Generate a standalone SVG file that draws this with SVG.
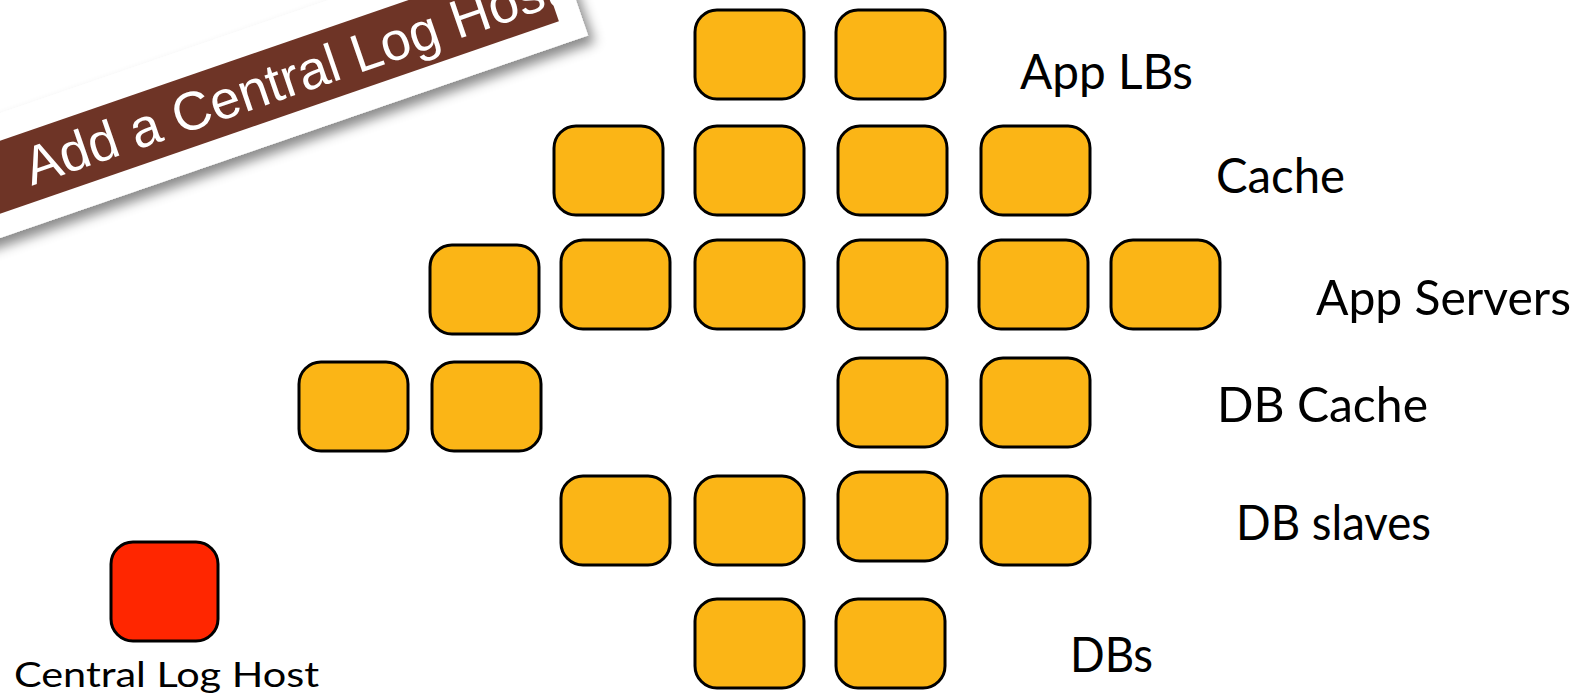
<svg xmlns="http://www.w3.org/2000/svg" width="1581" height="697" viewBox="0 0 1581 697">
<style>
.box{fill:#FBB516;stroke:#000;stroke-width:3}
.log{fill:#FF2600;stroke:#000;stroke-width:3}
.lbl{font-family:Lato,"Open Sans","Liberation Sans",sans-serif;font-size:48px;fill:#000}
.lbl2{font-family:Lato,"Open Sans","Liberation Sans",sans-serif;font-size:35px;fill:#000}
.ban{font-family:"Liberation Sans",Arial,sans-serif;font-size:54px;fill:#fff}
</style>
<defs>
<filter id="sh" x="-20%" y="-50%" width="140%" height="220%">
<feDropShadow dx="4" dy="9" stdDeviation="6" flood-color="#000" flood-opacity="0.45"/>
</filter>
</defs>
<g id="banner" transform="translate(0,238) rotate(-19)">
<rect x="-200" y="-118" width="822" height="118" fill="#fff" filter="url(#sh)"/>
<rect x="-200" y="-92" width="799" height="69" fill="#6E3426"/>
<text class="ban" x="47" y="-39">Add a Central Log Host</text>
</g>
<g id="app-lbs">
<rect class="box" x="695" y="10" width="109" height="89" rx="22"/>
<rect class="box" x="836" y="10" width="109" height="89" rx="22"/>
<text class="lbl" x="1020" y="89" textLength="173" lengthAdjust="spacingAndGlyphs">App LBs</text>
</g>
<g id="cache">
<rect class="box" x="554" y="126" width="109" height="89" rx="22"/>
<rect class="box" x="695" y="126" width="109" height="89" rx="22"/>
<rect class="box" x="838" y="126" width="109" height="89" rx="22"/>
<rect class="box" x="981" y="126" width="109" height="89" rx="22"/>
<text class="lbl" x="1216" y="193" textLength="129" lengthAdjust="spacingAndGlyphs">Cache</text>
</g>
<g id="app-servers">
<rect class="box" x="430" y="245" width="109" height="89" rx="22"/>
<rect class="box" x="561" y="240" width="109" height="89" rx="22"/>
<rect class="box" x="695" y="240" width="109" height="89" rx="22"/>
<rect class="box" x="838" y="240" width="109" height="89" rx="22"/>
<rect class="box" x="979" y="240" width="109" height="89" rx="22"/>
<rect class="box" x="1111" y="240" width="109" height="89" rx="22"/>
<text class="lbl" x="1316" y="315" textLength="255" lengthAdjust="spacingAndGlyphs">App Servers</text>
</g>
<g id="db-cache">
<rect class="box" x="299" y="362" width="109" height="89" rx="22"/>
<rect class="box" x="432" y="362" width="109" height="89" rx="22"/>
<rect class="box" x="838" y="358" width="109" height="89" rx="22"/>
<rect class="box" x="981" y="358" width="109" height="89" rx="22"/>
<text class="lbl" x="1217" y="422" textLength="211" lengthAdjust="spacingAndGlyphs">DB Cache</text>
</g>
<g id="db-slaves">
<rect class="box" x="561" y="476" width="109" height="89" rx="22"/>
<rect class="box" x="695" y="476" width="109" height="89" rx="22"/>
<rect class="box" x="838" y="472" width="109" height="89" rx="22"/>
<rect class="box" x="981" y="476" width="109" height="89" rx="22"/>
<text class="lbl" x="1236" y="540" textLength="195" lengthAdjust="spacingAndGlyphs">DB slaves</text>
</g>
<g id="dbs">
<rect class="box" x="695" y="599" width="109" height="89" rx="22"/>
<rect class="box" x="836" y="599" width="109" height="89" rx="22"/>
<text class="lbl" x="1070" y="672" textLength="83" lengthAdjust="spacingAndGlyphs">DBs</text>
</g>
<g id="central-log-host">
<rect class="log" x="111" y="542" width="107" height="99" rx="22"/>
<text class="lbl2" x="14" y="687" textLength="305" lengthAdjust="spacingAndGlyphs">Central Log Host</text>
</g>
<g id="connectors"/>
</svg>
